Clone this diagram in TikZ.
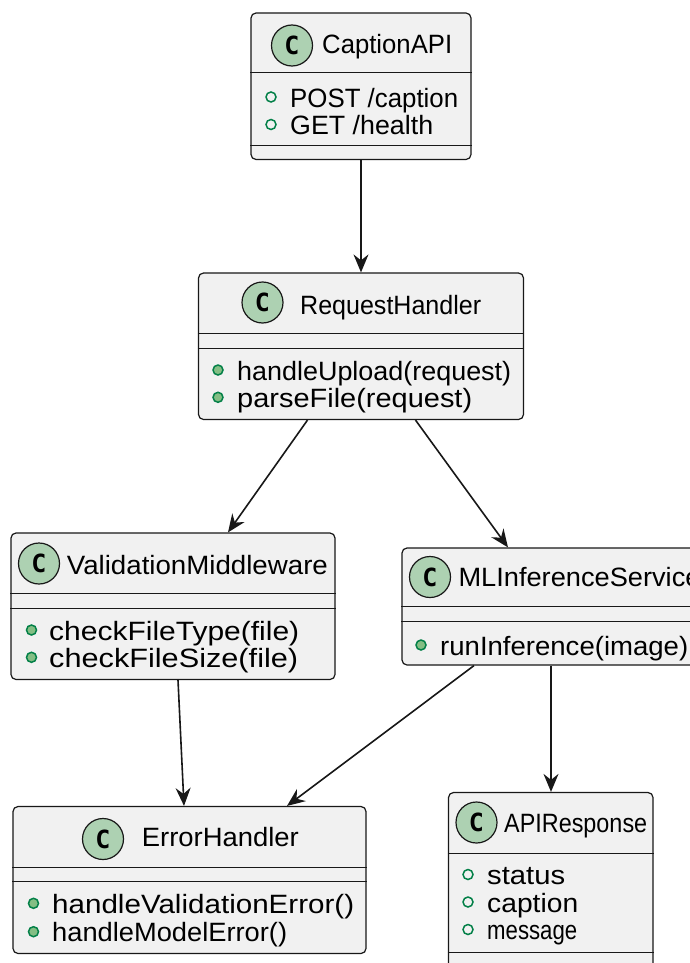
\documentclass[tikz,border=0pt]{standalone}
\usepackage{fontspec}
\setmainfont{Liberation Sans}
\newfontfamily\stereofont{DejaVu Sans Mono}
\usetikzlibrary{arrows.meta,calc}

\definecolor{boxfill}{HTML}{F1F1F1}
\definecolor{edge}{HTML}{181818}
\definecolor{classgreen}{HTML}{ADD1B2}
\definecolor{memberline}{HTML}{038048}
\definecolor{methodfill}{HTML}{84BE84}

% stretch a text to a given width (in pt) keeping its height
\newcommand\fitto[2]{\resizebox{#1pt}{\height}{#2}}

% a class compartment line from one side of a box to the other
\newcommand\sepline[2]{\draw[sepline] (#1.west |- 0,#2) -- (#1.east |- 0,#2);}

% member row: name, bullet style, bullet x, text x, baseline, width, text
\newcommand\member[7]{%
  \node[#2] (#1-b) at (#3,#5-10) {};
  \node[mtext, anchor=base west] (#1) at (#4,#5) {\fitto{#6}{#7}};}

\tikzset{
  classbox/.style={draw=edge, fill=boxfill, line width=1.2pt,
    rounded corners=5pt, inner sep=0pt},
  sepline/.style={draw=edge, line width=1pt},
  stereo/.style={circle, draw=edge, fill=classgreen, line width=1.2pt,
    minimum size=41pt, inner sep=0pt,
    font=\stereofont\bfseries\fontsize{25}{25}\selectfont},
  ctitle/.style={inner sep=0pt, anchor=base west,
    font=\fontsize{26.5}{30}\selectfont},
  mtext/.style={inner sep=0pt, font=\fontsize{26.5}{30}\selectfont},
  field/.style={circle, draw=memberline, line width=1.5pt,
    minimum size=10pt, inner sep=0pt},
  method/.style={field, fill=methodfill},
  conn/.style={draw=edge, line width=1.6pt,
    -{Stealth[length=18pt,width=15pt,inset=6pt]}},
}

\begin{document}
\begin{tikzpicture}[x=1pt,y=-1pt]
\useasboundingbox (0,0) rectangle (690,963);
\clip (0,0) rectangle (690,963);
\fill[white] (0,0) rectangle (690,963);

% ---- CaptionAPI ----
\node[classbox, minimum width=220pt, minimum height=146.5pt] (cap) at (361,86.25) {};
\node[stereo] (cap-c) at (292,45.5) {C};
\node[ctitle] (cap-t) at (322,54) {\fitto{130}{CaptionAPI}};
\sepline{cap}{73}
\member{cap-m1}{field}{271}{290}{107}{168}{POST /caption}
\member{cap-m2}{field}{271}{290}{134.5}{143}{GET /health}
\sepline{cap}{145.5}

% ---- RequestHandler ----
\node[classbox, minimum width=325pt, minimum height=146.5pt] (req) at (361,346.25) {};
\node[stereo] (req-c) at (262.5,302.5) {C};
\node[ctitle] (req-t) at (300,314.3) {\fitto{181}{RequestHandler}};
\sepline{req}{333.3}
\sepline{req}{348.3}
\member{req-m1}{method}{218}{237}{380}{274}{handleUpload(request)}
\member{req-m2}{method}{218}{237}{407.3}{235}{parseFile(request)}

% ---- ValidationMiddleware ----
\node[classbox, minimum width=324pt, minimum height=146.5pt] (val) at (173,606.25) {};
\node[stereo] (val-c) at (39,563.5) {C};
\node[ctitle] (val-t) at (66.7,574.3) {\fitto{261}{ValidationMiddleware}};
\sepline{val}{593.3}
\sepline{val}{608.3}
\member{val-m1}{method}{31.5}{49}{640}{250}{checkFileType(file)}
\member{val-m2}{method}{31.5}{49}{667.3}{249}{checkFileSize(file)}

% ---- MLInferenceService ----
\node[classbox, minimum width=304pt, minimum height=117pt] (ml) at (554,606.5) {};
\node[stereo] (ml-c) at (430,577) {C};
\node[ctitle] (ml-t) at (458.3,586.7) {\fitto{242}{MLInferenceService}};
\sepline{ml}{606.7}
\sepline{ml}{621.7}
\member{ml-m1}{method}{421}{440}{655}{248}{runInference(image)}

% ---- ErrorHandler ----
\node[classbox, minimum width=353pt, minimum height=147pt] (err) at (189.5,880) {};
\node[stereo] (err-c) at (103,839) {C};
\node[ctitle] (err-t) at (141.7,846.7) {\fitto{157}{ErrorHandler}};
\sepline{err}{867.3}
\sepline{err}{881.7}
\member{err-m1}{method}{33.5}{52}{913.3}{302}{handleValidationError()}
\member{err-m2}{method}{33.5}{52}{941.7}{235}{handleModelError()}

% ---- APIResponse ----
\node[classbox, minimum width=204.5pt, minimum height=192.5pt] (api) at (550.75,888.75) {};
\node[stereo] (api-c) at (476.5,822.5) {C};
\node[ctitle] (api-t) at (504,832.7) {\fitto{143}{APIResponse}};
\sepline{api}{853.3}
\member{api-m1}{field}{468}{487}{884.5}{78}{status}
\member{api-m2}{field}{468}{487}{912}{91}{caption}
\member{api-m3}{field}{468}{487}{939.5}{90}{message}
\sepline{api}{952.7}

% ---- dependencies ----
\draw[conn] (cap.south) -- (req.north);
\draw[conn] ([xshift=-53.5pt]req.south) -- ([xshift=55pt]val.north);
\draw[conn] ([xshift=54.5pt]req.south) -- ([xshift=-46pt]ml.north);
\draw[conn] ([xshift=5pt]val.south) -- ([xshift=-5.5pt]err.north);
\draw[conn] ([xshift=-80pt]ml.south) -- ([xshift=97.5pt]err.north);
\draw[conn] ([xshift=-3pt]ml.south) -- ([xshift=0.25pt]api.north);
\end{tikzpicture}
\end{document}
